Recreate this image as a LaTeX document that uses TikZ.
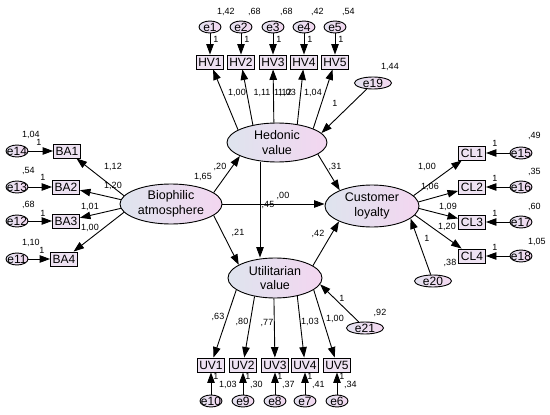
\documentclass[tikz,border=0pt]{standalone}
\usepackage{fontspec}
\setmainfont{Liberation Sans}
\usepackage{tikz}
\usetikzlibrary{positioning,calc}
\usetikzlibrary{shapes.geometric}
\usetikzlibrary{arrows.meta}
\definecolor{latl}{RGB}{222,228,238}
\definecolor{latr}{RGB}{243,214,240}
\definecolor{obsf}{RGB}{238,226,242}
\definecolor{errl}{RGB}{228,226,240}
\definecolor{errr}{RGB}{243,216,240}

\begin{document}
\begin{tikzpicture}[x=1pt,y=-1pt,
    lat/.style={ellipse, draw, line width=0.9pt, inner sep=0, left color=latl, right color=latr, align=center, font=\fontsize{12.5}{14.5}\selectfont},
    obs/.style={rectangle, draw, line width=0.9pt, fill=obsf, minimum width=27, minimum height=14, inner sep=0, font=\fontsize{12}{13}\selectfont},
    err/.style={ellipse, draw, line width=0.9pt, left color=errl, right color=errr, minimum width=22, minimum height=12, inner xsep=-3.5pt, inner ysep=-0.5pt, font=\fontsize{12}{13}\selectfont},
    errw/.style={err, minimum width=37},
    num/.style={inner sep=0, font=\fontsize{9}{10}\selectfont},
    reg/.style={line width=0.9pt, -{Triangle[length=10.5pt,width=7.5pt]}}]
            \useasboundingbox (0,0) rectangle (550,415);
            % latent variables
            \node[lat, minimum width=102, minimum height=40] (bio) at (171,204){Biophilic\\atmosphere};
            \node[lat, minimum width=100, minimum height=39] (hv) at (277,142.5){Hedonic\\value};
            \node[lat, minimum width=94, minimum height=42] (cl) at (372,206){Customer\\loyalty};
            \node[lat, minimum width=94, minimum height=40] (uv) at (275,278){Utilitarian\\value};
            % hedonic value items
            \node[obs] (HV1) at (210,62){HV1};
            \node[obs] (HV2) at (241,62){HV2};
            \node[obs] (HV3) at (273,62){HV3};
            \node[obs] (HV4) at (304,62){HV4};
            \node[obs] (HV5) at (335,62){HV5};
            \node[err] (e1) at (210,27){e1};
            \node[err] (e2) at (241,27){e2};
            \node[err] (e3) at (273,27){e3};
            \node[err] (e4) at (304,27){e4};
            \node[err] (e5) at (335,27){e5};
            % utilitarian value items
            \node[obs] (UV1) at (211,365){UV1};
            \node[obs] (UV2) at (243,365){UV2};
            \node[obs] (UV3) at (275,365){UV3};
            \node[obs] (UV4) at (305,365){UV4};
            \node[obs] (UV5) at (337,365){UV5};
            \node[err] (e10) at (211,401){e10};
            \node[err] (e9) at (243,401){e9};
            \node[err] (e8) at (275,401){e8};
            \node[err] (e7) at (305,401){e7};
            \node[err] (e6) at (337,401){e6};
            % biophilic atmosphere items
            \node[obs] (BA1) at (67,151){BA1};
            \node[obs] (BA2) at (66,187){BA2};
            \node[obs] (BA3) at (66,221){BA3};
            \node[obs] (BA4) at (64,259){BA4};
            \node[err] (e14) at (17,151){e14};
            \node[err] (e13) at (17,187){e13};
            \node[err] (e12) at (17,221){e12};
            \node[err] (e11) at (17,259){e11};
            % customer loyalty items
            \node[obs] (CL1) at (472,153){CL1};
            \node[obs] (CL2) at (472,187){CL2};
            \node[obs] (CL3) at (472,222){CL3};
            \node[obs] (CL4) at (472,256){CL4};
            \node[err] (e15) at (521,153){e15};
            \node[err] (e16) at (521,187){e16};
            \node[err] (e17) at (521,222){e17};
            \node[err] (e18) at (521,256){e18};
            % disturbances
            \node[errw] (e19) at (373,83){e19};
            \node[errw] (e20) at (433,281){e20};
            \node[errw] (e21) at (365,328){e21};
            \coordinate (hvu) at (260,0);

            % error arrows
            \draw[reg] (e1)--(HV1); \draw[reg] (e2)--(HV2); \draw[reg] (e3)--(HV3); \draw[reg] (e4)--(HV4); \draw[reg] (e5)--(HV5);
            \draw[reg] (e10)--(UV1); \draw[reg] (e9)--(UV2); \draw[reg] (e8)--(UV3); \draw[reg] (e7)--(UV4); \draw[reg] (e6)--(UV5);
            \draw[reg] (e14)--(BA1); \draw[reg] (e13)--(BA2); \draw[reg] (e12)--(BA3); \draw[reg] (e11)--(BA4);
            \draw[reg] (e15)--(CL1); \draw[reg] (e16)--(CL2); \draw[reg] (e17)--(CL3); \draw[reg] (e18)--(CL4);
            \draw[reg] (e19)--(hv.12);
            \draw[reg] (e20)--(cl.342);
            \draw[reg] (e21)--(uv.352);
            % loadings
            \draw[reg] (hv.162)--(HV1); \draw[reg] (hv.144)--(HV2); \draw[reg] (hv.99)--(HV3); \draw[reg] (hv.42)--(HV4); \draw[reg] (hv.21)--(HV5);
            \draw[reg] (uv.197)--(UV1); \draw[reg] (uv.222)--(UV2); \draw[reg] (uv.267)--(UV3); \draw[reg] (uv.321)--(UV4); \draw[reg] (uv.343)--(UV5);
            \draw[reg] (bio.170)--(BA1); \draw[reg] (bio.175)--(BA2); \draw[reg] (bio.185)--(BA3); \draw[reg] (bio.190)--(BA4);
            \draw[reg] (cl.14)--(CL1); \draw[reg] (cl.5)--(CL2); \draw[reg] (cl.-3)--(CL3); \draw[reg] (cl.-12)--(CL4);
            % structural paths
            \draw[reg] (bio.15)--(hv.200);
            \draw[reg] (bio.east)--(bio.east -| cl.west);
            \draw[reg] (bio.345)--(uv.160);
            \draw[reg] (hv.south -| hvu)--(uv.north -| hvu);
            \draw[reg] (hv.344)--(cl.154);
            \draw[reg] (uv.18)--(cl.205);

            % estimates, top
            \node[num, anchor=west] (v1) at (217,12){1,42};
            \node[num, anchor=west] (v2) at (248,12){,68};
            \node[num, anchor=west] (v3) at (280,12){,68};
            \node[num, anchor=west] (v4) at (311,12){,42};
            \node[num, anchor=west] (v5) at (342,12){,54};
            \node[num] (f1) at (216,39){1};
            \node[num] (f2) at (247,39){1};
            \node[num] (f3) at (279,39){1};
            \node[num] (f4) at (310,39){1};
            \node[num] (f5) at (341,39){1};
            \node[num] (l1) at (237,93){1,00};
            \node[num] (l2) at (262,93){1,11};
            \node[num] (l3) at (283,93){1,12};
            \node[num] (l4) at (287,93){1,03};
            \node[num] (l5) at (313,93){1,04};
            \node[num] (f19) at (335,103){1};
            \node[num] (v19) at (390,67){1,44};
            % estimates, bottom
            \node[num] (l6) at (218,317){,63};
            \node[num] (l7) at (242,322){,80};
            \node[num] (l8) at (267,323){,77};
            \node[num] (l9) at (310,322){1,03};
            \node[num] (l10) at (335,319){1,00};
            \node[num] (f21) at (342,298){1};
            \node[num] (v21) at (380,313){,92};
            \node[num] (f10) at (216,376){1};
            \node[num] (f9) at (248,376){1};
            \node[num] (f8) at (280,376){1};
            \node[num] (f7) at (310,376){1};
            \node[num] (f6) at (342,376){1};
            \node[num, anchor=west] (v10) at (219,385){1,03};
            \node[num, anchor=west] (v9) at (250,385){,30};
            \node[num, anchor=west] (v8) at (282,385){,37};
            \node[num, anchor=west] (v7) at (312,385){,41};
            \node[num, anchor=west] (v6) at (344,385){,34};
            % estimates, left
            \node[num, anchor=west] (v14) at (22,135){1,04};
            \node[num, anchor=west] (v13) at (22,171){,54};
            \node[num, anchor=west] (v12) at (22,205){,68};
            \node[num, anchor=west] (v11) at (22,243){1,10};
            \node[num] (f14) at (39,142){1};
            \node[num] (f13) at (43,177){1};
            \node[num] (f12) at (43,213){1};
            \node[num] (f11) at (42,250){1};
            \node[num] (l11) at (113,167){1,12};
            \node[num] (l12) at (113,186){1,20};
            \node[num] (l13) at (90,207){1,01};
            \node[num] (l14) at (90,228){1,00};
            % estimates, right
            \node[num, anchor=west] (v15) at (528,136){,49};
            \node[num, anchor=west] (v16) at (528,172){,35};
            \node[num, anchor=west] (v17) at (528,207){,60};
            \node[num, anchor=west] (v18) at (528,242){1,05};
            \node[num] (f15) at (495,143){1};
            \node[num] (f16) at (495,178){1};
            \node[num] (f17) at (495,213){1};
            \node[num] (f18) at (495,247){1};
            \node[num] (l15) at (427,167){1,00};
            \node[num] (l16) at (430,187){1,06};
            \node[num] (l17) at (448,207){1,09};
            \node[num] (l18) at (447,227){1,20};
            \node[num] (f20) at (427,238){1};
            \node[num] (v20) at (450,263){,38};
            % structural estimates
            \node[num] (v0) at (203,177){1,65};
            \node[num] (s1) at (220,167){,20};
            \node[num] (s2) at (283,196){,00};
            \node[num] (s3) at (268,205){,45};
            \node[num] (s4) at (238,233){,21};
            \node[num] (s5) at (318,234){,42};
            \node[num] (s6) at (335,167){,31};
        \end{tikzpicture}
\end{document}
